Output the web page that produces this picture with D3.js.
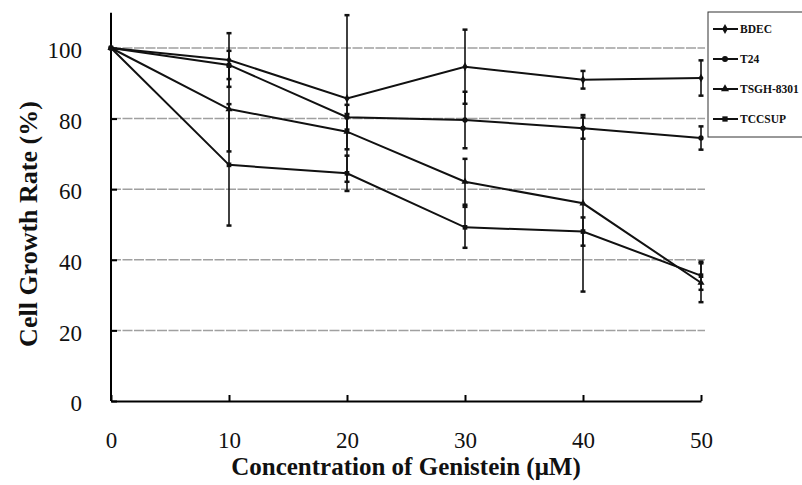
<!DOCTYPE html>
<html>
<head>
<meta charset="utf-8">
<script src="https://cdn.jsdelivr.net/npm/d3@7"></script>
<style>
  body { margin: 0; background: #fff; }
  svg { display: block; font-family: "Liberation Serif", "DejaVu Serif", serif; }
</style>
</head>
<body>
<div id="chart"></div>
<script>
// values
const concentrations = [0, 10, 20, 30, 40, 50];
const seriesNames = ['BDEC', 'T24', 'TSGH-8301', 'TCCSUP'];
const bdec = [100, 96.6, 85.7, 94.7, 91, 91.5];
const bdecErr = [0, 7.6, 23.6, 10.5, 2.5, 5];
const t24 = [100, 95.2, 80.4, 79.6, 77.3, 74.5];
const t24Err = [0, 4, 3.5, 8, 3, 3.3];
const tsgh = [100, 82.7, 76.3, 62.1, 56, 33.5];
const tsghErr = [0, 12, 5, 6.5, 25, 5.5];
const tccsup = [100, 66.9, 64.5, 49.2, 48, 35.5];
const tccsupErr = [0, 17.2, 5, 5.8, 4, 4];
const yTicks = [0, 20, 40, 60, 80, 100];
const gridValues = [20, 40, 60, 80, 100];

const W = 802, H = 485;
const values = [bdec, t24, tsgh, tccsup];
const errors = [bdecErr, t24Err, tsghErr, tccsupErr];
const symbols = [d3.symbolDiamond, d3.symbolCircle, d3.symbolTriangle, d3.symbolSquare];

const series = seriesNames.map((name, i) => ({
  name: name,
  symbol: symbols[i],
  points: concentrations.map((c, j) => ({ x: c, y: values[i][j], e: errors[i][j] }))
}));

const x = d3.scaleLinear().domain([0, 50]).range([111, 701]);
const y = d3.scaleLinear().domain([0, 110]).range([401, 12.7]);

const svg = d3.select('#chart').append('svg')
  .attr('width', W).attr('height', H);

// gridlines
svg.append('g').selectAll('line')
  .data(gridValues)
  .enter().append('line')
    .attr('x1', x(0)).attr('x2', x(50) + 4)
    .attr('y1', d => y(d)).attr('y2', d => y(d))
    .attr('stroke', '#a0a0a0')
    .attr('stroke-width', 1.5)
    .attr('stroke-dasharray', '10,1.5');

// axes
const xAxis = svg.append('g')
  .attr('transform', 'translate(0,' + y(0) + ')')
  .call(d3.axisBottom(x).tickValues(concentrations).tickSizeInner(-6).tickSizeOuter(0).tickPadding(30));
const yAxis = svg.append('g')
  .attr('transform', 'translate(' + x(0) + ',0)')
  .call(d3.axisLeft(y).tickValues(yTicks).tickSizeInner(-6).tickSizeOuter(0).tickPadding(30));

[xAxis, yAxis].forEach(a => {
  a.select('.domain').attr('stroke', '#000').attr('stroke-width', 2);
  a.selectAll('.tick line').attr('stroke', '#000').attr('stroke-width', 2);
  a.selectAll('.tick text')
    .attr('font-family', '"Liberation Serif", serif')
    .attr('font-size', 23)
    .attr('fill', '#111');
});
// y axis runs up past 100
yAxis.select('.domain').attr('d', 'M0,' + y(0) + 'V' + y(110));
yAxis.selectAll('.tick text').attr('x', -29).attr('dy', '0.42em');
xAxis.selectAll('.tick text').attr('y', 31);

// error bars
const bars = svg.append('g');
series.forEach(s => {
  const pts = s.points.filter(p => p.e > 0);
  bars.selectAll(null).data(pts).enter().append('line')
    .attr('x1', d => x(d.x)).attr('x2', d => x(d.x))
    .attr('y1', d => y(d.y + d.e)).attr('y2', d => y(d.y - d.e))
    .attr('stroke', '#111').attr('stroke-width', 1.6);
  [1, -1].forEach(sign => {
    bars.selectAll(null).data(pts).enter().append('line')
      .attr('x1', d => x(d.x) - 2.5).attr('x2', d => x(d.x) + 2.5)
      .attr('y1', d => y(d.y + sign * d.e)).attr('y2', d => y(d.y + sign * d.e))
      .attr('stroke', '#111').attr('stroke-width', 2.5);
  });
});

// lines and markers
const line = d3.line().x(d => x(d.x)).y(d => y(d.y));
series.forEach(s => {
  svg.append('path')
    .datum(s.points)
    .attr('d', line)
    .attr('fill', 'none')
    .attr('stroke', '#111')
    .attr('stroke-width', 2);
  svg.append('g').selectAll('path')
    .data(s.points)
    .enter().append('path')
      .attr('transform', d => 'translate(' + x(d.x) + ',' + y(d.y) + ')')
      .attr('d', d3.symbol().type(s.symbol).size(22))
      .attr('fill', '#111');
});

// legend
const legend = svg.append('g');
legend.append('rect')
  .attr('x', 708).attr('y', 12).attr('width', 120).attr('height', 125)
  .attr('fill', '#fff').attr('stroke', '#333').attr('stroke-width', 1);
const legendY = d3.scalePoint().domain(seriesNames).range([29, 119]);
series.forEach(s => {
  const ly = legendY(s.name);
  legend.append('line')
    .attr('x1', 713).attr('x2', 738).attr('y1', ly).attr('y2', ly)
    .attr('stroke', '#111').attr('stroke-width', 2);
  legend.append('path')
    .attr('transform', 'translate(725,' + ly + ')')
    .attr('d', d3.symbol().type(s.symbol).size(28))
    .attr('fill', '#111');
  legend.append('text')
    .attr('x', 740).attr('y', ly + 4)
    .attr('font-size', 11.5)
    .attr('font-weight', 'bold')
    .attr('fill', '#111')
    .text(s.name);
});

// axis titles
svg.append('text')
  .attr('x', 406).attr('y', 475)
  .attr('text-anchor', 'middle')
  .attr('font-size', 25).attr('font-weight', 'bold')
  .attr('fill', '#111')
  .text('Concentration of Genistein (\u03BCM)');
svg.append('text')
  .attr('transform', 'translate(37,224) rotate(-90)')
  .attr('text-anchor', 'middle')
  .attr('font-size', 26).attr('font-weight', 'bold')
  .attr('fill', '#111')
  .text('Cell Growth Rate (%)');
</script>
</body>
</html>
